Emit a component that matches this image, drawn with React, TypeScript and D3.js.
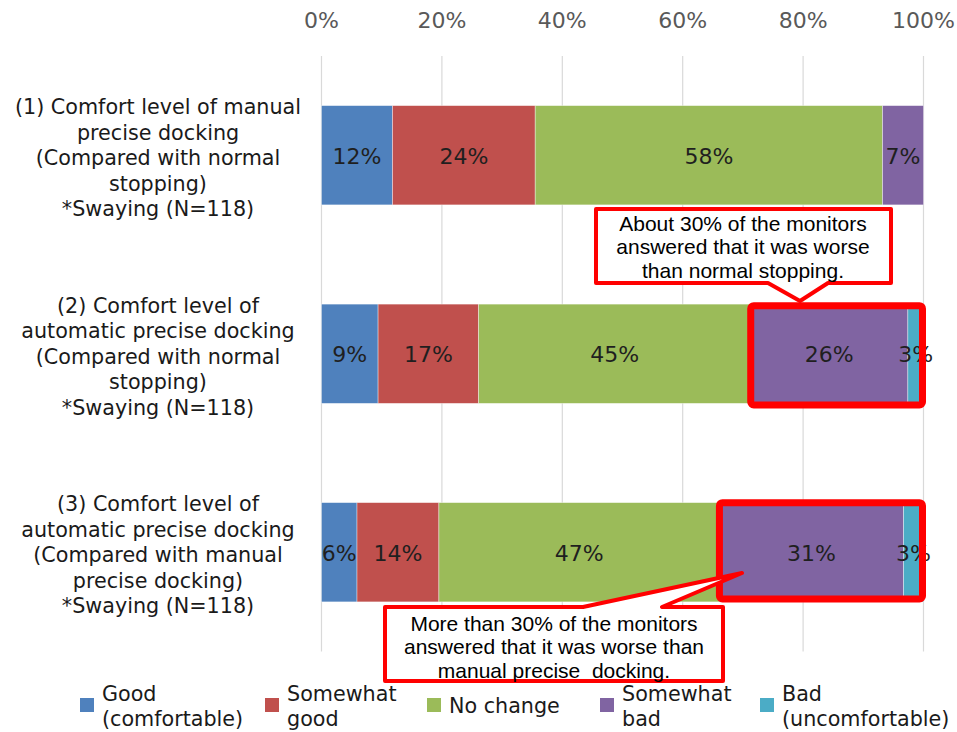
import React from "react";
import * as d3 from "d3";

// Survey results: comfort level of precise docking (share of monitors, %)
const categories = ["(1)", "(2)", "(3)"];
const categoryLines: string[][] = [
  ["(1) Comfort level of manual", "precise docking", "(Compared with normal", "stopping)", "*Swaying (N=118)"],
  ["(2) Comfort level of", "automatic precise docking", "(Compared with normal", "stopping)", "*Swaying (N=118)"],
  ["(3) Comfort level of", "automatic precise docking", "(Compared with manual", "precise docking)", "*Swaying (N=118)"],
];
const seriesNames = ["Good (comfortable)", "Somewhat good", "No change", "Somewhat bad", "Bad (uncomfortable)"];
const legendLines: string[][] = [
  ["Good", "(comfortable)"],
  ["Somewhat", "good"],
  ["No change"],
  ["Somewhat", "bad"],
  ["Bad", "(uncomfortable)"],
];
const good = [11.8, 9.4, 5.9];
const somewhatGood = [23.7, 16.7, 13.6];
const noChange = [57.7, 45.2, 46.6];
const somewhatBad = [6.8, 26.1, 30.6];
const bad = [0, 2.6, 3.3];
const tickValues = [0, 20, 40, 60, 80, 100];
const colors = ["#4F81BD", "#C0504D", "#9BBB59", "#8064A2", "#4BACC6"];

const callout1Text = ["About 30% of the monitors", "answered that it was worse", "than normal stopping."];
const callout2Text = ["More than 30% of the monitors", "answered that it was worse than", "manual precise  docking."];

const W = 957;
const H = 732;
const FONT = "'DejaVu Sans', Verdana, sans-serif";
const ARIAL = "'Liberation Sans', Arial, sans-serif";

export default function App() {
  const series = [good, somewhatGood, noChange, somewhatBad, bad];
  const x = d3.scaleLinear().domain([0, 100]).range([321.5, 923.5]);
  const y = d3
    .scaleBand<string>()
    .domain(categories)
    .range([56, 651.5])
    .paddingInner(0.5)
    .paddingOuter(0.25);

  const rows = categories.map((c, i) => {
    const vals = series.map((s) => s[i]);
    const starts = vals.map((_, k) => d3.sum(vals.slice(0, k)));
    return { c, vals, starts };
  });

  const bw = y.bandwidth();

  // highlight boxes around the "worse" segments of rows 2 and 3
  const highlight = (ri: number) => {
    const r = rows[ri];
    const x0 = x(r.starts[3]);
    const x1 = x(100) - 1;
    const y0 = (y(r.c) as number) + (ri === 1 ? 1.5 : 0);
    return { x0, x1, y0, y1: (y(r.c) as number) + bw + (ri === 1 ? 1.5 : -3) };
  };
  const hb2 = highlight(1);
  const hb3 = highlight(2);

  const calloutPath = (
    bx0: number, by0: number, bx1: number, by1: number,
    side: "top" | "bottom", wa: number, wb: number, tx: number, ty: number
  ) => {
    if (side === "bottom") {
      return `M${bx0},${by0}H${bx1}V${by1}H${wb}L${tx},${ty}L${wa},${by1}H${bx0}Z`;
    }
    return `M${bx0},${by0}H${wa}L${tx},${ty}L${wb},${by0}H${bx1}V${by1}H${bx0}Z`;
  };

  return (
    <svg
      width={W}
      height={H}
      style={{ position: "absolute", left: 0, top: 0, background: "#fff" }}
    >
      {/* gridlines */}
      {tickValues.map((t) => (
        <line
          key={"g" + t}
          x1={x(t)}
          x2={x(t)}
          y1={56}
          y2={651.5}
          stroke="#D9D9D9"
          strokeWidth={1.2}
        />
      ))}
      {/* top axis tick labels */}
      {tickValues.map((t) => (
        <text
          key={"t" + t}
          x={x(t)}
          y={20}
          textAnchor="middle"
          dominantBaseline="central"
          fontFamily={FONT}
          fontSize={22}
          fill="#595959"
        >
          {t}%
        </text>
      ))}

      {/* category labels */}
      {rows.map((r, i) => (
        <text
          key={"c" + r.c}
          x={158}
          textAnchor="middle"
          fontFamily={FONT}
          fontSize={20.7}
          fill="#1a1a1a"
        >
          {categoryLines[i].map((ln, k) => (
            <tspan
              key={k}
              x={158}
              y={(y(r.c) as number) + bw / 2 + 3 + (k - 2) * 25.5}
              dominantBaseline="central"
            >
              {ln}
            </tspan>
          ))}
        </text>
      ))}

      {/* stacked bars */}
      {rows.map((r) =>
        r.vals.map((v, k) =>
          v > 0 ? (
            <rect
              key={r.c + k}
              x={x(r.starts[k])}
              y={y(r.c)}
              width={x(r.starts[k] + v) - x(r.starts[k])}
              height={bw}
              fill={colors[k]}
              stroke="#ffffff"
              strokeOpacity={0.5}
              strokeWidth={0.75}
            />
          ) : null
        )
      )}
      {/* value labels */}
      {rows.map((r) =>
        r.vals.map((v, k) =>
          v > 0 ? (
            <text
              key={"l" + r.c + k}
              x={x(r.starts[k] + v / 2)}
              y={(y(r.c) as number) + bw / 2 + 1}
              textAnchor="middle"
              dominantBaseline="central"
              fontFamily={FONT}
              fontSize={22}
              fill="#1f1f1f"
            >
              {Math.round(v)}%
            </text>
          ) : null
        )
      )}

      {/* highlight boxes */}
      {[hb2, hb3].map((b, i) => (
        <rect
          key={"hb" + i}
          x={b.x0}
          y={b.y0}
          width={b.x1 - b.x0}
          height={b.y1 - b.y0}
          rx={3}
          fill="none"
          stroke="#FF0000"
          strokeWidth={7}
        />
      ))}

      {/* callout for row 2 */}
      <path
        d={calloutPath(596, 209, 891, 283, "bottom", 768, 828, 800, 301)}
        fill="#fff"
        stroke="#FF0000"
        strokeWidth={4}
        strokeLinejoin="round"
      />
      <text textAnchor="middle" fontFamily={ARIAL} fontSize={21} fill="#000">
        {callout1Text.map((ln, k) => (
          <tspan key={k} x={743} y={223 + k * 23.5} dominantBaseline="central">
            {ln}
          </tspan>
        ))}
      </text>

      {/* callout for row 3 */}
      <path
        d={calloutPath(385, 607, 723, 681, "top", 583, 662, 742, 573)}
        fill="#fff"
        stroke="#FF0000"
        strokeWidth={4}
        strokeLinejoin="round"
      />
      <text
        textAnchor="middle"
        fontFamily={ARIAL}
        fontSize={21}
        fill="#000"
        style={{ whiteSpace: "pre" }}
      >
        {callout2Text.map((ln, k) => (
          <tspan key={k} x={554} y={623 + k * 23.5} dominantBaseline="central">
            {ln}
          </tspan>
        ))}
      </text>

      {/* legend */}
      {seriesNames.map((name, i) => {
        const lx = [80, 265, 427, 600, 760][i];
        const lines = legendLines[i];
        return (
          <g key={"lg" + name}>
            <rect x={lx} y={698} width={14} height={14} fill={colors[i]} />
            <text fontFamily={FONT} fontSize={20.7} fill="#1a1a1a">
              {lines.map((ln, k) => (
                <tspan
                  key={k}
                  x={lx + 22}
                  y={lines.length === 1 ? 706 : 694 + k * 25}
                  dominantBaseline="central"
                >
                  {ln}
                </tspan>
              ))}
            </text>
          </g>
        );
      })}
    </svg>
  );
}
